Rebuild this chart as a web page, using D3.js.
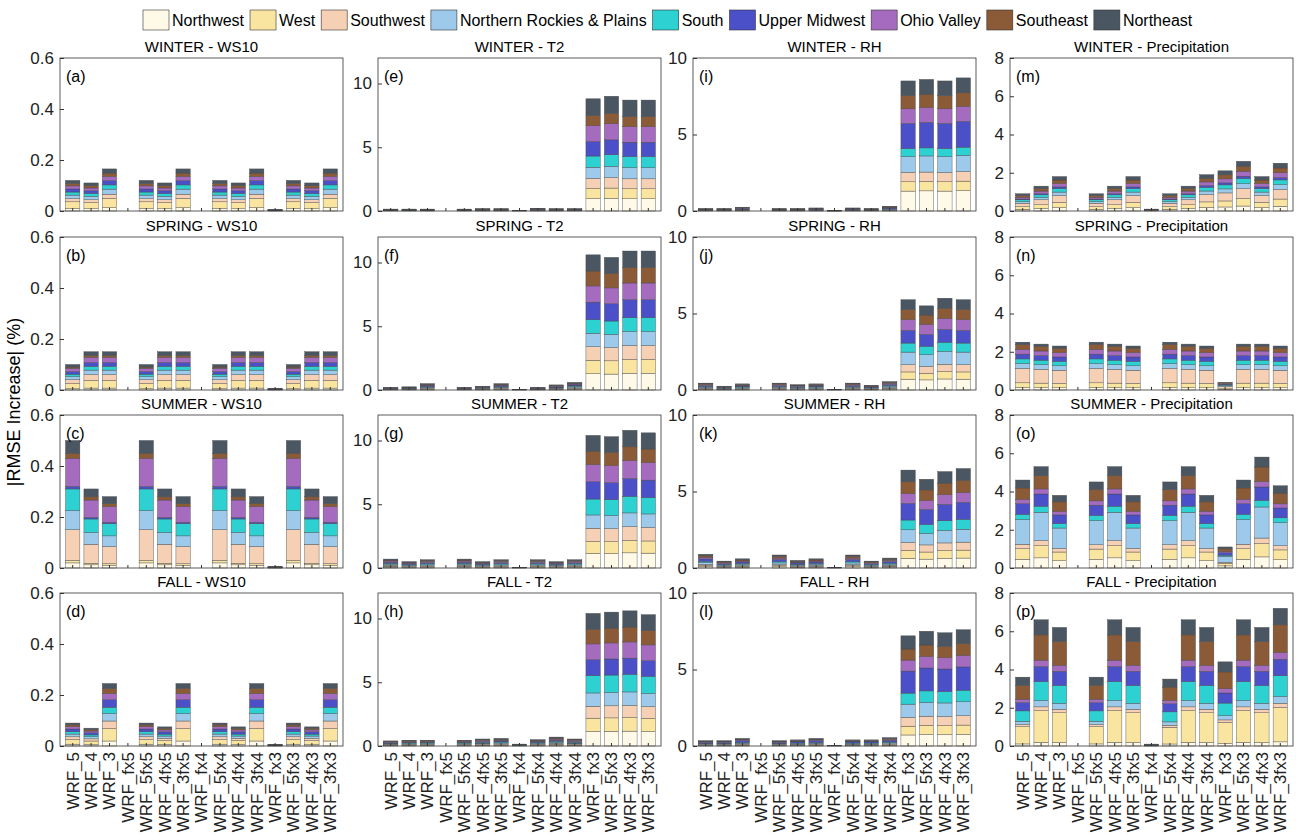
<!DOCTYPE html>
<html><head><meta charset="utf-8">
<script src="https://cdn.jsdelivr.net/npm/d3@7"></script>
<style>body{margin:0;background:#fff}text{font-family:"Liberation Sans",Arial,sans-serif}</style>
</head><body>
<script>
// categories and series
var cats = ["WRF_5","WRF_4","WRF_3","WRF_fx5","WRF_5fx5","WRF_4fx5","WRF_3fx5","WRF_fx4","WRF_5fx4","WRF_4fx4","WRF_3fx4","WRF_fx3","WRF_5fx3","WRF_4fx3","WRF_3fx3"];
var regions = ["Northwest","West","Southwest","Northern Rockies & Plains","South","Upper Midwest","Ohio Valley","Southeast","Northeast"];
var colors = ["#FFF9E8","#F9E4A0","#F6D0B4","#9DCAEB","#2ED1D1","#4B50C8","#A56BBE","#8B5A36","#4A5763"];
var seasons = ["WINTER","SPRING","SUMMER","FALL"];
var vars = ["WS10","T2","RH","Precipitation"];
var yMax = [0.6, 12, 10, 8];
var yTicks = [[0,0.2,0.4,0.6],[0,5,10],[0,5,10],[0,2,4,6,8]];

// bar totals per panel [season][var]
var totals = [
 [[0.12,0.11,0.165,0,0.12,0.11,0.165,0,0.12,0.11,0.165,0.005,0.12,0.11,0.165],
  [0.15,0.15,0.15,0,0.15,0.18,0.18,0.05,0.2,0.18,0.18,8.8,9.0,8.7,8.7],
  [0.15,0.15,0.25,0,0.15,0.15,0.2,0.02,0.2,0.15,0.3,8.5,8.6,8.5,8.7],
  [0.9,1.3,1.8,0,0.9,1.3,1.8,0.1,0.9,1.3,1.9,2.1,2.6,1.8,2.5]],
 [[0.10,0.15,0.15,0,0.10,0.15,0.15,0,0.10,0.15,0.15,0.005,0.10,0.15,0.15],
  [0.2,0.25,0.5,0,0.2,0.3,0.5,0.05,0.2,0.4,0.6,10.6,10.4,10.9,10.9],
  [0.45,0.25,0.4,0,0.45,0.35,0.4,0.05,0.45,0.3,0.55,5.9,5.5,6.0,5.9],
  [2.5,2.4,2.3,0,2.5,2.4,2.3,0,2.5,2.4,2.3,0.4,2.4,2.4,2.3]],
 [[0.50,0.31,0.28,0,0.50,0.31,0.28,0,0.50,0.31,0.28,0.005,0.50,0.31,0.28],
  [0.7,0.5,0.65,0,0.7,0.5,0.65,0.05,0.65,0.5,0.65,10.4,10.3,10.8,10.6],
  [0.9,0.45,0.6,0,0.85,0.5,0.6,0.05,0.85,0.45,0.65,6.4,5.8,6.3,6.5],
  [4.6,5.3,3.8,0,4.5,5.3,3.8,0,4.5,5.3,3.8,1.1,4.6,5.8,4.3]],
 [[0.09,0.07,0.245,0,0.09,0.075,0.245,0,0.09,0.075,0.245,0.005,0.09,0.075,0.245],
  [0.4,0.45,0.45,0,0.45,0.55,0.6,0.15,0.5,0.7,0.55,10.4,10.5,10.6,10.3],
  [0.35,0.35,0.5,0,0.35,0.4,0.5,0.05,0.4,0.4,0.55,7.2,7.5,7.4,7.6],
  [3.6,6.6,6.2,0,3.6,6.6,6.2,0.1,3.5,6.6,6.2,4.4,6.6,6.2,7.2]]
];

// regional shares per panel [season][var]
var shares = [
 [[0.08,0.22,0.1,0.12,0.1,0.1,0.1,0.08,0.1],
  [0.11,0.09,0.09,0.1,0.1,0.13,0.14,0.09,0.15],
  [0.15,0.07,0.07,0.12,0.06,0.19,0.11,0.1,0.11],
  [0.1,0.15,0.2,0.1,0.1,0.05,0.1,0.1,0.1]],
 [[0.05,0.2,0.15,0.12,0.1,0.1,0.13,0.05,0.1],
  [0.12,0.1,0.1,0.1,0.1,0.13,0.12,0.11,0.12],
  [0.12,0.08,0.08,0.14,0.1,0.14,0.12,0.11,0.11],
  [0.05,0.1,0.3,0.1,0.1,0.1,0.1,0.1,0.05]],
 [[0.04,0.02,0.24,0.15,0.17,0.02,0.22,0.04,0.1],
  [0.11,0.09,0.1,0.1,0.12,0.13,0.13,0.1,0.12],
  [0.1,0.08,0.08,0.13,0.1,0.17,0.1,0.12,0.12],
  [0.1,0.12,0.05,0.28,0.06,0.12,0.05,0.13,0.09]],
 [[0.08,0.2,0.12,0.12,0.1,0.12,0.1,0.08,0.08],
  [0.11,0.1,0.09,0.1,0.13,0.12,0.12,0.11,0.12],
  [0.1,0.08,0.08,0.12,0.1,0.2,0.1,0.1,0.12],
  [0.03,0.25,0.03,0.05,0.15,0.12,0.05,0.2,0.12]]
];

var W = 1296, H = 835;
var colX = [60, 378, 693, 1010], pw = 283;
var rowY = [58, 237, 415, 593], ph = 153;
var letters = "abcdefghijklmnop";

var svg = d3.select("body").append("svg").attr("width", W).attr("height", H);

// legend
var lx = 143;
regions.forEach(function (r, i) {
    var g = svg.append("g");
    g.append("rect").attr("x", lx).attr("y", 10).attr("width", 26).attr("height", 20)
        .attr("fill", colors[i]).attr("stroke", "#333").attr("stroke-width", 0.6);
    var t = g.append("text").attr("x", lx + 29).attr("y", 26).attr("font-size", 16).text(r);
    lx += 29 + t.node().getComputedTextLength() + 6;
});

var x = d3.scaleBand().domain(cats).range([0, pw]).paddingInner(0.22).paddingOuter(0.3);

seasons.forEach(function (s, si) {
    vars.forEach(function (v, vi) {
        var g = svg.append("g").attr("transform", "translate(" + colX[vi] + "," + rowY[si] + ")");
        var y = d3.scaleLinear().domain([0, yMax[vi]]).range([ph, 0]);
        var sh = shares[si][vi], sum = d3.sum(sh);
        var rows = cats.map(function (c, ci) {
            var o = {cat: c};
            regions.forEach(function (r, ri) { o[r] = totals[si][vi][ci] * sh[ri] / sum; });
            return o;
        });
        var stacked = d3.stack().keys(regions)(rows);
        g.selectAll("g.layer").data(stacked).enter().append("g")
            .attr("fill", function (d, i) { return colors[i]; })
            .selectAll("rect").data(function (d) { return d; }).enter().append("rect")
            .attr("x", function (d) { return x(d.data.cat); })
            .attr("width", x.bandwidth())
            .attr("y", function (d) { return y(d[1]); })
            .attr("height", function (d) { return Math.max(0, y(d[0]) - y(d[1])); })
            .attr("stroke", "#444").attr("stroke-width", 0.4);

        var ya = g.append("g").call(d3.axisLeft(y).tickValues(yTicks[vi]).tickSizeInner(-4).tickSizeOuter(0).tickPadding(6)
            .tickFormat(function (d) { return vi === 0 ? (d === 0 ? "0" : d3.format(".1f")(d)) : d; }));
        ya.select(".domain").remove();
        ya.selectAll("text").attr("font-size", 17).attr("fill", "#222");
        ya.selectAll("line").attr("stroke", "#333");

        var xa = g.append("g").attr("transform", "translate(0," + ph + ")")
            .call(d3.axisBottom(x).tickSizeInner(-3).tickSizeOuter(0).tickFormat(si === 3 ? null : ""));
        xa.select(".domain").remove();
        xa.selectAll("line").attr("stroke", "#333");
        if (si === 3) {
            xa.selectAll("text").attr("font-size", 17).attr("fill", "#222")
                .attr("text-anchor", "end").attr("transform", "rotate(-90)")
                .attr("x", -6).attr("y", 0).attr("dy", "0.35em");
        }

        g.append("rect").attr("width", pw).attr("height", ph).attr("fill", "none")
            .attr("stroke", "#333").attr("stroke-width", 0.8);
        g.append("text").attr("x", pw / 2).attr("y", -6).attr("text-anchor", "middle")
            .attr("font-size", 15).text(s + " - " + v);
        g.append("text").attr("x", 6).attr("y", 24).attr("font-size", 16)
            .text("(" + letters[vi * 4 + si] + ")");
    });
});

svg.append("text").attr("transform", "translate(20," + (rowY[0] + (rowY[3] + ph - rowY[0]) / 2) + ") rotate(-90)")
    .attr("text-anchor", "middle").attr("font-size", 18).text("|RMSE Increase| (%)");
</script>
</body></html>
